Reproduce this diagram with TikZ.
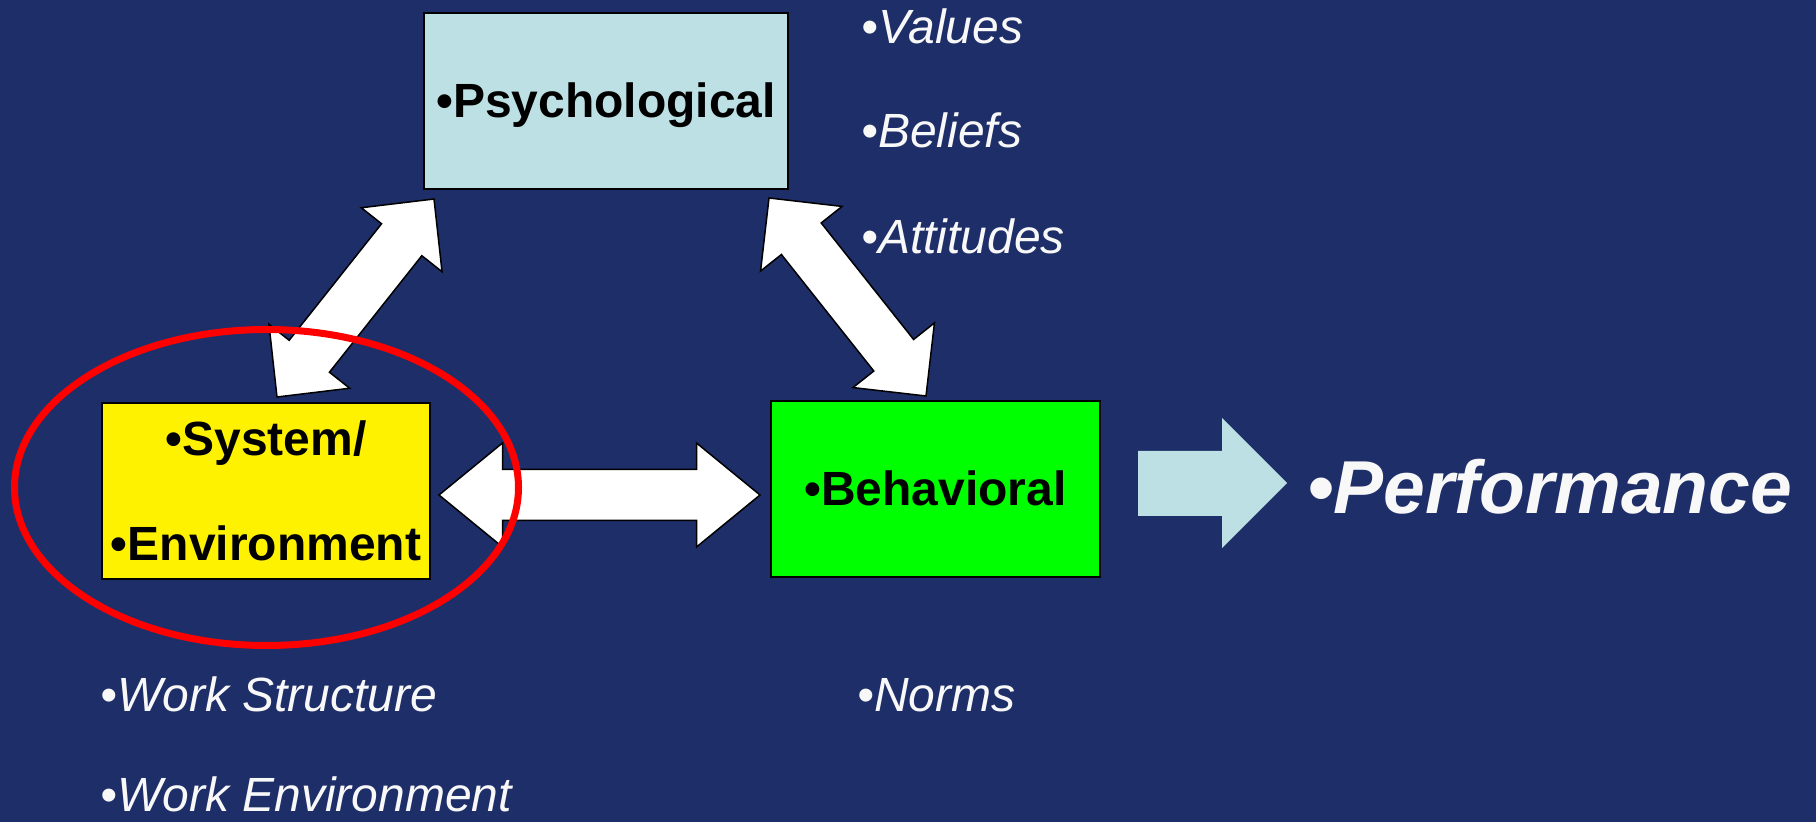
\documentclass[tikz,border=0pt]{standalone}
\usepackage{fontspec}
\setmainfont{Liberation Sans}
\usetikzlibrary{calc}

\definecolor{navy}{RGB}{30,46,104}
\definecolor{paleblue}{RGB}{188,224,227}
\definecolor{offwhite}{RGB}{248,248,248}

\tikzset{
  box/.style={draw=black, line width=1pt, inner sep=0pt, minimum height=88pt},
  boxlabel/.style={anchor=base, inner sep=0pt, text=black,
    font=\fontsize{24}{28}\selectfont\bfseries},
  note/.style={anchor=base west, inner sep=0pt, text=offwhite, text depth=0pt,
    font=\fontsize{24}{28}\selectfont\itshape},
  fatarrow/.style={fill=white, draw=black, line width=0.75pt, line join=miter},
}

% Block arrow with a head at both ends:
% #1 tail tip, #2 head tip, #3 shaft half width, #4 head half width, #5 head length
\newcommand\fatdouble[5]{%
  \draw[fatarrow] (#1)
    -- ($(#1)!#5!(#2)!#4!90:(#2)$)
    -- ($(#1)!#5!(#2)!#3!90:(#2)$)
    -- ($(#2)!#5!(#1)!#3!-90:(#1)$)
    -- ($(#2)!#5!(#1)!#4!-90:(#1)$)
    -- (#2)
    -- ($(#2)!#5!(#1)!#4!90:(#1)$)
    -- ($(#2)!#5!(#1)!#3!90:(#1)$)
    -- ($(#1)!#5!(#2)!#3!-90:(#2)$)
    -- ($(#1)!#5!(#2)!#4!-90:(#2)$)
    -- cycle;}

\begin{document}
\begin{tikzpicture}[x=0.5pt, y=-0.5pt]
  \fill[navy] (0,0) rectangle (1816,822);
  \useasboundingbox (0,0) rectangle (1816,822);

  % the three factors
  \node[box, fill=paleblue, minimum width=182pt] (psy) at (606,101) {};
  \node[box, fill=yellow, minimum width=164pt] (sys) at (266,491) {};
  \node[box, fill=green, minimum width=164.5pt] (beh) at (935.5,489) {};

  \node[boxlabel] (psyt) at ($(psy.center)+(0,17)$) {•Psychological};
  \node[boxlabel] (syst) at ($(sys.center)+(0,-35)$) {•System/};
  \node[boxlabel] (envt) at ($(sys.center)+(0,70)$) {•Environment};
  \node[boxlabel] (beht) at ($(beh.center)+(0,17)$) {•Behavioral};

  % arrow end points next to the boxes
  \coordinate (lsys) at ($(sys.north)+(11,-5)$);
  \coordinate (lpsy) at ($(psy.south west)+(11,9)$);
  \coordinate (rpsy) at ($(psy.south east)+(-20,8)$);
  \coordinate (rbeh) at ($(beh.north)+(-9.5,-4)$);
  \coordinate (hsys) at ($(sys.east)+(8,4)$);
  \coordinate (hbeh) at ($(beh.west)+(-10,6)$);

  \fatdouble{lsys}{lpsy}{12.85pt}{25.75pt}{26pt}
  \fatdouble{rpsy}{rbeh}{12.7pt}{26pt}{26pt}
  \fatdouble{hsys}{hbeh}{12.75pt}{26pt}{31.75pt}

  % outcome
  \fill[paleblue] (1138,451) -- (1222,451) -- (1222,418) -- (1287,483)
    -- (1222,548) -- (1222,516) -- (1138,516) -- cycle;
  \node[anchor=base west, inner sep=0pt, text=offwhite,
    font=\fontsize{37.5}{45}\selectfont\bfseries\itshape]
    (perf) at (1307,514) {•Performance};

  % descriptors
  \node[note] (val) at (861,44) {•Values};
  \node[note] (bel) at (861,148) {•Beliefs};
  \node[note] (att) at (861,254) {•Attitudes};
  \node[note] (nrm) at (857,712) {•Norms};
  \node[note] (wst) at (100,712) {•Work Structure};
  \node[note] (wen) at (100,812) {•Work Environment};

  % highlight ring
  \coordinate (ring) at (266.5,487.5);
  \draw[red, line width=3.5pt] (ring) ellipse [x radius=126pt, y radius=79pt];
\end{tikzpicture}
\end{document}
